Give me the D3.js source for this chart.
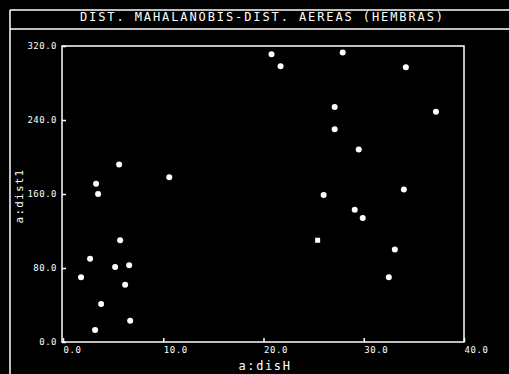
<!DOCTYPE html>
<html>
<head>
<meta charset="utf-8">
<script src="https://cdn.jsdelivr.net/npm/d3@7"></script>
<style>
  html, body { margin: 0; padding: 0; background: #000; }
  svg { display: block; }
  text { font-family: "DejaVu Sans Mono", "Liberation Mono", monospace; fill: #fff; }
</style>
</head>
<body>
<svg id="chart" width="509" height="374"></svg>
<script>
// ---- data ----
const title = "DIST. MAHALANOBIS-DIST. AEREAS (HEMBRAS)";
const xLabel = "a:disH";
const yLabel = "a:dist1";
const xTicks = [0, 10, 20, 30, 40];
const yTicks = [0, 80, 160, 240, 320];

// circle markers
const disH = [1.8, 2.7, 3.3, 3.5, 3.8, 3.2, 5.6, 5.7, 5.2, 6.6, 6.2, 6.7, 10.6,
              20.8, 21.7, 27.9, 34.2, 37.2, 27.1, 27.1, 29.5, 26.0, 34.0, 29.1, 29.9, 33.1, 32.5];
const dist1 = [70, 90, 171, 160, 41, 13, 192, 110, 81, 83, 62, 23, 178,
               311, 298, 313, 297, 249, 254, 230, 208, 159, 165, 143, 134, 100, 70];
// square marker
const sqDisH = [25.4];
const sqDist1 = [110];

// ---- layout ----
const svg = d3.select("#chart");
const pLeft = 62, pRight = 464, pTop = 46, pBottom = 342;

const x = d3.scaleLinear().domain([0, 40]).range([pLeft + 1, pRight]);
const y = d3.scaleLinear().domain([0, 320]).range([pBottom, pTop]);

// outer frame
const frame = svg.append("g").attr("stroke", "#fff").attr("stroke-width", 1.5);
frame.append("line").attr("x1", 10).attr("x2", 509).attr("y1", 10).attr("y2", 10);
frame.append("line").attr("x1", 10).attr("x2", 509).attr("y1", 29).attr("y2", 29);
frame.append("line").attr("x1", 10).attr("x2", 10).attr("y1", 10).attr("y2", 374);

// title
svg.append("text")
  .attr("x", 80).attr("y", 21)
  .attr("font-size", 12)
  .attr("letter-spacing", 1.9)
  .text(title);

// plot box
svg.append("rect")
  .attr("x", pLeft).attr("y", pTop)
  .attr("width", pRight - pLeft).attr("height", pBottom - pTop)
  .attr("fill", "none").attr("stroke", "#fff").attr("stroke-width", 1.5);

// y axis
const yAxis = svg.append("g")
  .attr("transform", `translate(${pLeft},0)`)
  .call(d3.axisLeft(y).tickValues(yTicks).tickSize(-4).tickPadding(5).tickFormat(d3.format(".1f")));
yAxis.select(".domain").remove();
yAxis.selectAll("line").attr("stroke", "#fff").attr("stroke-width", 1.5);
yAxis.selectAll("text")
  .attr("font-size", 9)
  .attr("letter-spacing", 0.5)
  .attr("dy", "0.28em")
  .style("fill", "#fff");

// x axis
const xAxis = svg.append("g")
  .attr("transform", `translate(0,${pBottom})`)
  .call(d3.axisBottom(x).tickValues(xTicks).tickSize(-4).tickPadding(3).tickFormat(d3.format(".1f")));
xAxis.select(".domain").remove();
xAxis.selectAll("line").attr("stroke", "#fff").attr("stroke-width", 1.5);
xAxis.selectAll("text")
  .attr("font-size", 9)
  .attr("letter-spacing", 0.6)
  .attr("text-anchor", "start")
  .attr("dy", "0.9em")
  .style("fill", "#fff");

// axis titles
svg.append("text")
  .attr("x", 265).attr("y", 370)
  .attr("text-anchor", "middle")
  .attr("font-size", 12)
  .attr("letter-spacing", 1.6)
  .text(xLabel);

svg.append("text")
  .attr("transform", "translate(23,196) rotate(-90)")
  .attr("text-anchor", "middle")
  .attr("font-size", 11)
  .attr("letter-spacing", 1.2)
  .text(yLabel);

// points
const pts = d3.zip(disH, dist1);
svg.append("g").selectAll("circle")
  .data(pts).join("circle")
  .attr("cx", d => x(d[0]))
  .attr("cy", d => y(d[1]))
  .attr("r", 3)
  .attr("fill", "#fff");

const sq = d3.zip(sqDisH, sqDist1);
svg.append("g").selectAll("rect")
  .data(sq).join("rect")
  .attr("x", d => x(d[0]) - 2.5)
  .attr("y", d => y(d[1]) - 2.5)
  .attr("width", 5).attr("height", 5)
  .attr("fill", "#fff");
</script>
</body>
</html>
